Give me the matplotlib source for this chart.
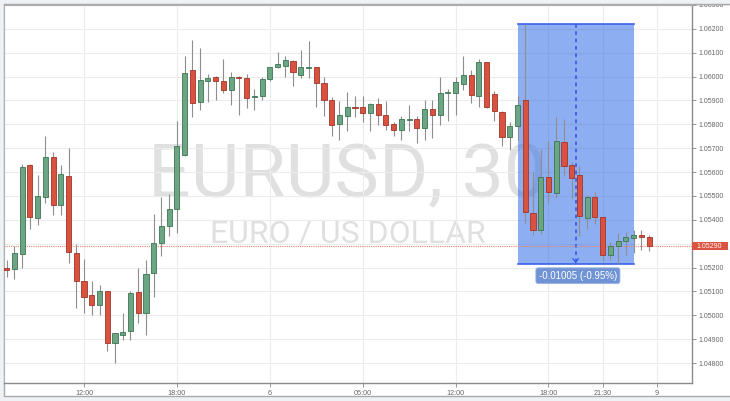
import matplotlib
matplotlib.use("Agg")
import matplotlib.pyplot as plt
from matplotlib.patches import Rectangle
from matplotlib.lines import Line2D
import matplotlib.transforms as mtransforms
import numpy as np

# ---------------- data (EURUSD, 30 min) ----------------
opens = [1.05198, 1.05194, 1.05258, 1.05628, 1.05408, 1.05496, 1.05662, 1.05462, 1.05585, 1.05261,
         1.05145, 1.05086, 1.05042, 1.05100, 1.04884, 1.04918, 1.04933, 1.05098, 1.05012, 1.05177,
         1.05303, 1.05373, 1.05446, 1.05673, 1.06028, 1.05894, 1.05980, 1.05997, 1.05980, 1.05943,
         1.05997, 1.05995, 1.05915, 1.05918, 1.05988, 1.06039, 1.06043, 1.06064, 1.06008, 1.06035,
         1.06039, 1.05974, 1.05904, 1.05803, 1.05835, 1.05874, 1.05873, 1.05848, 1.05887, 1.05838,
         1.05803, 1.05778, 1.05820, 1.05823, 1.05785, 1.05865, 1.05841, 1.05930, 1.05932, 1.05970,
         1.06006, 1.05918, 1.06060, 1.05929, 1.05852, 1.05747, 1.05795, 1.05901, 1.05429, 1.05356,
         1.05580, 1.05513, 1.05725, 1.05628, 1.05586, 1.05408, 1.05496, 1.05412, 1.05254, 1.05289,
         1.05310, 1.05324, 1.05338, 1.05328]
highs = [1.05233, 1.05289, 1.05635, 1.05632, 1.05586, 1.05753, 1.05685, 1.05631, 1.05701, 1.05300,
         1.05237, 1.05142, 1.05128, 1.05102, 1.04926, 1.05010, 1.05100, 1.05198, 1.05233, 1.05425,
         1.05496, 1.05510, 1.05816, 1.06088, 1.06152, 1.06120, 1.06013, 1.06001, 1.06074, 1.06020,
         1.06001, 1.06013, 1.05949, 1.05997, 1.06042, 1.06102, 1.06085, 1.06071, 1.06113, 1.06148,
         1.06041, 1.05997, 1.05913, 1.05897, 1.05934, 1.05918, 1.05918, 1.05889, 1.05911, 1.05897,
         1.05809, 1.05837, 1.05880, 1.05834, 1.05901, 1.05904, 1.05999, 1.05946, 1.05997, 1.06085,
         1.06029, 1.06074, 1.06062, 1.05939, 1.05855, 1.05809, 1.05920, 1.06222, 1.05601, 1.05698,
         1.05729, 1.05830, 1.05824, 1.05641, 1.05624, 1.05506, 1.05515, 1.05414, 1.05306, 1.05345,
         1.05348, 1.05356, 1.05356, 1.05338]
lows = [1.05161, 1.05152, 1.05198, 1.05362, 1.05380, 1.05471, 1.05419, 1.05419, 1.05219, 1.05031,
        1.05010, 1.05000, 1.05000, 1.04849, 1.04800, 1.04898, 1.04898, 1.04970, 1.04916, 1.05079,
        1.05250, 1.05331, 1.05345, 1.05666, 1.05831, 1.05859, 1.05892, 1.05900, 1.05932, 1.05882,
        1.05840, 1.05870, 1.05859, 1.05901, 1.05983, 1.06035, 1.05997, 1.05959, 1.05995, 1.05995,
        1.05871, 1.05834, 1.05752, 1.05734, 1.05774, 1.05830, 1.05810, 1.05774, 1.05799, 1.05778,
        1.05753, 1.05736, 1.05774, 1.05722, 1.05736, 1.05743, 1.05799, 1.05813, 1.05841, 1.05943,
        1.05890, 1.05873, 1.05869, 1.05813, 1.05708, 1.05691, 1.05736, 1.05387, 1.05335, 1.05341,
        1.05471, 1.05492, 1.05582, 1.05492, 1.05334, 1.05362, 1.05384, 1.05230, 1.05230, 1.05217,
        1.05254, 1.05261, 1.05272, 1.05268]
closes = [1.05191, 1.05261, 1.05620, 1.05410, 1.05498, 1.05662, 1.05462, 1.05594, 1.05265, 1.05145,
          1.05077, 1.05043, 1.05100, 1.04884, 1.04926, 1.04931, 1.05094, 1.05010, 1.05173, 1.05303,
          1.05373, 1.05446, 1.05711, 1.06016, 1.05888, 1.05985, 1.05995, 1.05980, 1.05943, 1.05999,
          1.05993, 1.05911, 1.05920, 1.05988, 1.06039, 1.06052, 1.06071, 1.06018, 1.06039, 1.06039,
          1.05974, 1.05900, 1.05799, 1.05841, 1.05873, 1.05870, 1.05848, 1.05887, 1.05841, 1.05799,
          1.05778, 1.05823, 1.05824, 1.05785, 1.05865, 1.05841, 1.05932, 1.05934, 1.05978, 1.06006,
          1.05925, 1.06060, 1.05873, 1.05855, 1.05747, 1.05795, 1.05880, 1.05431, 1.05359, 1.05580,
          1.05517, 1.05732, 1.05627, 1.05576, 1.05415, 1.05496, 1.05412, 1.05254, 1.05289, 1.05313,
          1.05328, 1.05338, 1.05328, 1.05290]

tick_pos = [10, 22, 34, 46, 58, 70, 77, 84]
tick_labels = ["12:00", "18:00", "6", "06:00", "12:00", "18:00", "21:30", "9"]
y_ticks = [1.048, 1.049, 1.050, 1.051, 1.052, 1.053, 1.054, 1.055, 1.056, 1.057,
           1.058, 1.059, 1.060, 1.061, 1.062, 1.063]

last_price = 1.05290
range_start, range_end = 66, 81
range_high, range_low = 1.06222, 1.05217
range_label = "-0.01005 (-0.95%)"
title_text = "EURUSD, 30"
subtitle_text = "EURO / US DOLLAR"

# ---------------- figure ----------------
W, H = 730, 401
bg = "#eef2f5"
fig = plt.figure(figsize=(W / 100, H / 100), dpi=100, facecolor=bg)
plt.rcParams['font.family'] = ['Liberation Sans', 'DejaVu Sans']

# white panel
fig.add_artist(Rectangle((4 / W, 1 - 396 / H), 1.0, (396 - 4) / H, transform=fig.transFigure,
                         facecolor="white", edgecolor="#a9a9a9", lw=1.0, zorder=-5))

ax = fig.add_axes([4.3 / W, 1 - 382.7 / H, (691.7 - 4.3) / W, (382.7 - 4.5) / H])
ax.set_facecolor("white")

x = np.arange(len(opens))
o = np.array(opens); h = np.array(highs); l = np.array(lows); c = np.array(closes)
up = c >= o

ax.set_xlim(-0.3, 88.5)
ax.set_ylim(1.04718, 1.06302)

# watermark
ax.text(0.498, 1.0 - (197.5 - 4.5) / 378.2, title_text, transform=ax.transAxes, ha="center",
        va="baseline", fontsize=54, color="#e0e0e0", family="Roboto", fontweight="normal",
        zorder=0.5)
ax.text(0.5, 1.0 - (242.3 - 4.5) / 378.2, subtitle_text, transform=ax.transAxes, ha="center",
        va="baseline", fontsize=23, color="#e0e0e0", family="Roboto", fontweight="normal",
        zorder=0.5)

# grid
ax.set_yticks(y_ticks)
ax.set_yticklabels(["" if abs(v - 1.053) < 1e-9 else "%.5f" % v for v in y_ticks])
ax.set_xticks(tick_pos)
ax.set_xticklabels(tick_labels)
ax.grid(True, color="#ececec", lw=0.8, zorder=1)
ax.set_axisbelow(True)

# measurement range rectangle
ax.add_patch(Rectangle((range_start, range_low), range_end - range_start, range_high - range_low,
                       facecolor="#306ce4", alpha=0.55, edgecolor="none", zorder=1.5))
ax.plot([range_start, range_end], [range_high, range_high], color="#3c62ea", lw=1.2, zorder=1.6)
ax.plot([range_start, range_end], [range_low, range_low], color="#3c62ea", lw=1.2, zorder=1.6)
mid = (range_start + range_end) / 2
ax.plot([mid, mid], [range_high, range_low + 0.00004], color="#3557ee", lw=1.2,
        linestyle=(0, (2.2, 2.2)), zorder=1.7)
ax.annotate("", xy=(mid, range_low + 0.00002), xytext=(mid, range_low + 0.0002),
            arrowprops=dict(arrowstyle="->,head_length=0.25,head_width=0.2", color="#3557ee", lw=0.9),
            zorder=1.7)

# candles
ax.vlines(x, l, h, color="#8e8e8e", lw=0.8, zorder=2)
body_h = np.where(np.abs(c - o) < 0.00002, 0.00002, np.abs(c - o))
body_b = np.minimum(o, c)
ax.bar(x[up], body_h[up], bottom=body_b[up], width=0.66, color="#6ba583",
       edgecolor="#3b7552", lw=0.6, zorder=3)
ax.bar(x[~up], body_h[~up], bottom=body_b[~up], width=0.66, color="#d9523f",
       edgecolor="#a0352a", lw=0.6, zorder=3)

# last price line
ax.axhline(last_price, color="#e8836f", lw=0.8, linestyle=(0, (1, 1)), zorder=2.5)

# range label box
ax.text(mid + 0.3, 1.05166, range_label, ha="center", va="center", fontsize=7, color="white",
        zorder=6, bbox=dict(boxstyle="round,pad=0.3,rounding_size=0.25", fc="#6f93d4",
                            ec="#9db5e3", lw=0.6))

# spines
for s in ["left", "top"]:
    ax.spines[s].set_color("#b0b0b0")
    ax.spines[s].set_linewidth(0.8)
for s in ["right", "bottom"]:
    ax.spines[s].set_color("#8a8a8a")
    ax.spines[s].set_linewidth(1.0)

ax.yaxis.tick_right()
ax.tick_params(axis="y", direction="out", length=3, width=0.6, color="#888888",
               labelcolor="#666666", labelsize=5, pad=2)
ax.tick_params(axis="x", direction="out", length=3, width=0.6, color="#888888",
               labelcolor="#666666", labelsize=5.2, pad=2)

# price tag on axis
blend = mtransforms.blended_transform_factory(ax.transAxes, ax.transData)
ax_w = 691.7 - 4.3
tag_h = 0.000178
ax.add_patch(Rectangle((1.0, last_price - tag_h), 36.5 / ax_w, 2 * tag_h, transform=blend,
                       facecolor="#d9533f", edgecolor="none", clip_on=False, zorder=7))
ax.text(1.0 + 18 / ax_w, last_price, "%.5f" % last_price, transform=blend, ha="center",
        va="center", fontsize=5, color="white", clip_on=False, zorder=8)

# clip top of panel (cuts the top tick label like the reference)
fig.add_artist(Rectangle((0, 1 - 4 / H), 1, 4 / H, transform=fig.transFigure,
                         facecolor=bg, edgecolor="none", zorder=10))
fig.add_artist(Line2D([4 / W, 1], [1 - 4 / H, 1 - 4 / H], transform=fig.transFigure,
                      color="#a9a9a9", lw=1.0, zorder=11))

fig.savefig("out.png", dpi=100, facecolor=bg)
